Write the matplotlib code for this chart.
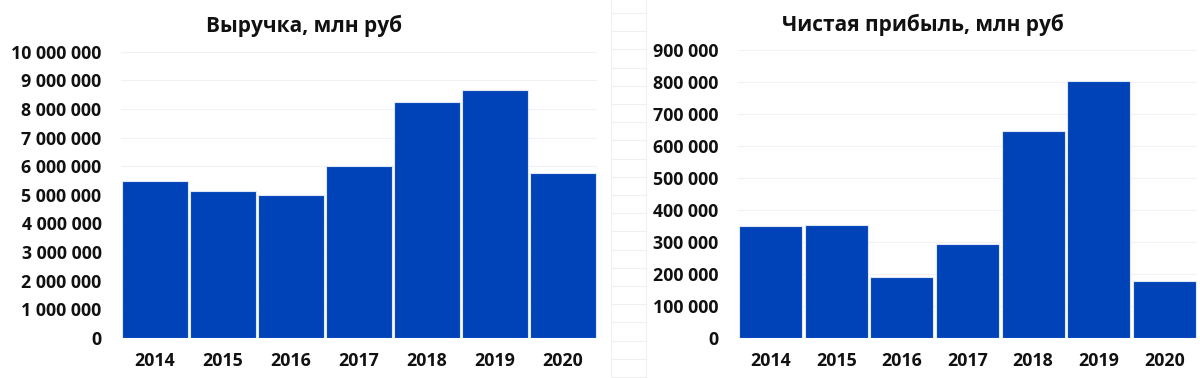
import matplotlib
matplotlib.use('Agg')
import matplotlib.pyplot as plt
from matplotlib.ticker import FuncFormatter, MultipleLocator
from matplotlib.lines import Line2D

# Data
years = ['2014', '2015', '2016', '2017', '2018', '2019', '2020']
revenue = [5480000, 5130000, 4980000, 6010000, 8230000, 8660000, 5750000]
net_profit = [350600, 354700, 191400, 294400, 647200, 802400, 179000]

titles = ['Выручка, млн руб', 'Чистая прибыль, млн руб']

plt.rcParams['font.family'] = ['Open Sans', 'DejaVu Sans']

BAR_COLOR = '#0043b8'


def fmt_thousands(v, pos):
    return f'{int(round(v)):,}'.replace(',', ' ')


def draw_panel(ax, values, title, ymax, step, title_x):
    x = range(len(years))
    ax.bar(x, values, width=0.96, color=BAR_COLOR, edgecolor='#dfe6f5',
           linewidth=0.8, zorder=3)
    ax.set_xlim(-0.5, len(years) - 0.5)
    ax.set_ylim(0, ymax)
    ax.yaxis.set_major_locator(MultipleLocator(step))
    ax.yaxis.set_major_formatter(FuncFormatter(fmt_thousands))
    ax.set_xticks(list(x))
    ax.set_xticklabels(years)
    ax.grid(axis='y', color='#f1f1f1', linewidth=0.8, zorder=0)
    for side in ax.spines.values():
        side.set_visible(False)
    ax.tick_params(length=0, labelsize=12.8, colors='#111111')
    ax.tick_params(axis='x', pad=10)
    ax.tick_params(axis='y', pad=14)
    for lab in ax.get_xticklabels() + ax.get_yticklabels():
        lab.set_fontweight('bold')
    ax.set_title(title, fontsize=15, fontweight='bold', pad=14,
                 color='#111111', x=title_x)


fig = plt.figure(figsize=(12, 3.78), dpi=100)
ax1 = fig.add_axes([0.1008, 0.1066, 0.3967, 0.7566])
ax2 = fig.add_axes([0.615, 0.105, 0.3825, 0.7627])

# titles are centred over the whole chart block, not the plot area
draw_panel(ax1, revenue, titles[0], 10000000, 1000000, (304 - 121) / 476)
draw_panel(ax2, net_profit, titles[1], 900000, 100000, (923 - 738) / 459)

# faint spreadsheet cell borders between the two charts
for xf in (611 / 1200, 646 / 1200):
    fig.add_artist(Line2D([xf, xf], [0, 1], color='#f0f0f0', linewidth=0.8))
for k in range(21):
    yf = 1 - (13 + 18.2 * k) / 378
    fig.add_artist(Line2D([611 / 1200, 646 / 1200], [yf, yf],
                          color='#f0f0f0', linewidth=0.8))

fig.savefig('out.png', dpi=100)
